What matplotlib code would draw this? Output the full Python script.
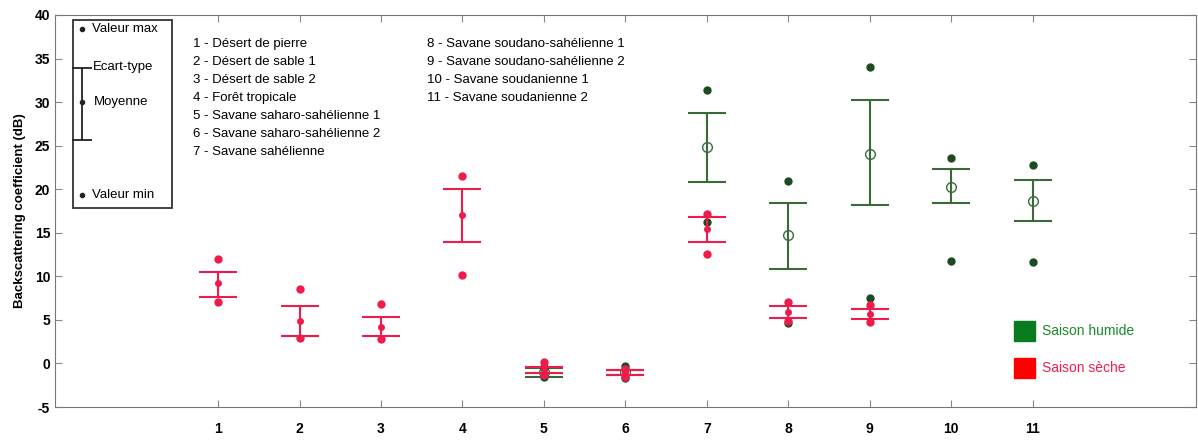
import numpy as np
import matplotlib.pyplot as plt
from matplotlib.patches import Rectangle

plt.rcParams['font.family'] = ['Liberation Sans', 'DejaVu Sans']
plt.rcParams['axes.unicode_minus'] = False

# noms des sites
names = ["Désert de pierre", "Désert de sable 1", "Désert de sable 2",
         "Forêt tropicale", "Savane saharo-sahélienne 1",
         "Savane saharo-sahélienne 2", "Savane sahélienne",
         "Savane soudano-sahélienne 1", "Savane soudano-sahélienne 2",
         "Savane soudanienne 1", "Savane soudanienne 2"]

# saison seche (rouge)
dry_x = [1, 2, 3, 4, 5, 6, 7, 8, 9]
dry_max = [12.0, 8.5, 6.8, 21.5, 0.2, -0.6, 17.2, 7.1, 6.7]
dry_hi = [10.5, 6.6, 5.3, 20.0, -0.4, -0.8, 16.8, 6.6, 6.2]
dry_mean = [9.2, 4.9, 4.2, 17.0, -0.7, -1.0, 15.4, 5.9, 5.7]
dry_lo = [7.6, 3.2, 3.1, 14.0, -1.1, -1.3, 14.0, 5.2, 5.1]
dry_min = [7.0, 2.9, 2.8, 10.1, -1.3, -1.5, 12.6, 4.9, 4.8]

# saison humide (vert)
wet_x = [5, 6, 7, 8, 9, 10, 11]
wet_max = [-0.4, -0.3, 31.4, 21.0, 34.0, 23.6, 22.8]
wet_hi = [-0.5, -0.8, 28.7, 18.4, 30.3, 22.3, 21.1]
wet_mean = [-1.0, -1.0, 24.8, 14.7, 24.1, 20.2, 18.7]
wet_lo = [-1.5, -1.3, 20.8, 10.9, 18.2, 18.4, 16.4]
wet_min = [-1.6, -1.7, 16.2, 4.6, 7.5, 11.8, 11.6]

RED = '#ee1c4a'
GREEN = '#3a6a3a'
GREEN_DOT = '#1e4a22'

fig = plt.figure(figsize=(11.98, 4.41), dpi=100)
ax = fig.add_axes([0.046, 0.077, 0.952, 0.889])

# saison humide
wm = np.array(wet_mean)
ax.errorbar(wet_x, wm, yerr=[wm - np.array(wet_lo), np.array(wet_hi) - wm],
            fmt='o', color=GREEN, mfc='none', ms=7, capsize=14, elinewidth=1.5,
            capthick=1.5, zorder=3)
ax.plot(wet_x, wet_max, 'o', color=GREEN_DOT, ms=5, zorder=4)
ax.plot(wet_x, wet_min, 'o', color=GREEN_DOT, ms=5, zorder=4)

# saison seche
dm = np.array(dry_mean)
ax.errorbar(dry_x, dm, yerr=[dm - np.array(dry_lo), np.array(dry_hi) - dm],
            fmt='o', color=RED, ms=4, capsize=14, elinewidth=1.5,
            capthick=1.5, zorder=5)
ax.plot(dry_x, dry_max, 'o', color=RED, ms=5, zorder=6)
ax.plot(dry_x, dry_min, 'o', color=RED, ms=5, zorder=6)

ax.set_xlim(-1, 13)
ax.set_ylim(-5, 40)
ax.set_xticks(range(1, 12))
ax.set_yticks(range(-5, 41, 5))
ax.tick_params(direction='in', top=True, right=True, labelsize=10,
               length=5, color='#888888')
ax.tick_params(axis='x', pad=11)
for lbl in ax.get_xticklabels() + ax.get_yticklabels():
    lbl.set_fontweight('bold')
for s in ax.spines.values():
    s.set_color('#777777')
ax.set_ylabel('Backscattering coefficient (dB)', fontsize=9.5, fontweight='bold',
              labelpad=6)

# legende explicative
ax.add_patch(Rectangle((-0.78, 17.9), 1.22, 21.5, fill=False, ec='#333333', lw=1.3, zorder=2))
ax.errorbar([-0.67], [30.0], yerr=[[4.3], [3.9]], fmt='o', color='#222222', ms=3,
            capsize=7, elinewidth=1.3, capthick=1.3)
ax.plot([-0.67, -0.67], [38.4, 19.3], 'o', color='#222222', ms=3, ls='none')
ax.text(-0.55, 38.4, 'Valeur max', fontsize=9.5, va='center')
ax.text(-0.54, 34.0, 'Ecart-type', fontsize=9.5, va='center')
ax.text(-0.53, 30.0, 'Moyenne', fontsize=9.5, va='center')
ax.text(-0.55, 19.3, 'Valeur min', fontsize=9.5, va='center')

# liste des sites
for i, n in enumerate(names):
    col_x = 0.69 if i < 7 else 3.57
    row = i if i < 7 else i - 7
    ax.text(col_x, 36.7 - row * 2.07, f'{i + 1} - {n}', fontsize=9.5, va='center')

# legende saisons
ax.add_patch(Rectangle((10.77, 2.6), 0.26, 2.3, color='#0a7a1e', zorder=3))
ax.add_patch(Rectangle((10.77, -1.7), 0.26, 2.3, color='#ff0000', zorder=3))
ax.text(11.11, 3.75, 'Saison humide', color='#1a8a2a', fontsize=10, va='center')
ax.text(11.11, -0.55, 'Saison sèche', color='#f0204a', fontsize=10, va='center')

fig.savefig('out.png', dpi=100)
